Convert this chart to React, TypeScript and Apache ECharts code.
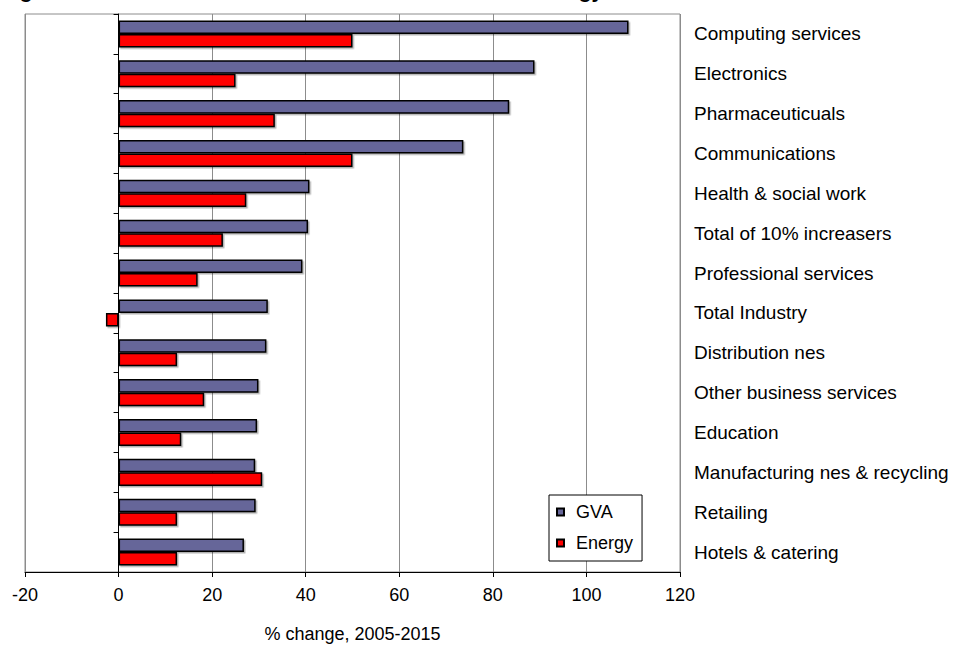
import React, { useEffect, useRef } from "react";
import * as echarts from "echarts";

// Sectors, top to bottom
const categories = [
  "Computing services",
  "Electronics",
  "Pharmaceuticuals",
  "Communications",
  "Health & social work",
  "Total of 10% increasers",
  "Professional services",
  "Total Industry",
  "Distribution nes",
  "Other business services",
  "Education",
  "Manufacturing nes & recycling",
  "Retailing",
  "Hotels & catering",
];

// % change, 2005-2015
const gvaValues = [109.0, 88.9, 83.5, 73.7, 40.8, 40.5, 39.3, 31.9, 31.6, 29.9, 29.6, 29.2, 29.3, 26.8];
const energyValues = [50.0, 25.0, 33.4, 50.0, 27.3, 22.3, 16.9, -2.7, 12.5, 18.3, 13.4, 30.7, 12.5, 12.5];

const xTicks = { min: -20, max: 120, interval: 20 };

const FONT = "Arial, 'Liberation Sans', sans-serif";

export default function App() {
  const ref = useRef<HTMLDivElement>(null);

  useEffect(() => {
    document.body.style.margin = "0";
    if (!ref.current) return;
    const chart = echarts.init(ref.current, null, { renderer: "svg" });

    const barShadow = {
      shadowColor: "rgba(0,0,0,0.3)",
      shadowOffsetX: 1.5,
      shadowOffsetY: 1.5,
      shadowBlur: 0,
    };

    chart.setOption({
      animation: false,
      backgroundColor: "#fff",
      textStyle: { fontFamily: FONT },
      graphic: [
        {
          // title sits above the top edge of the page; only its descenders show
          type: "text",
          x: 1,
          y: -10,
          silent: true,
          style: {
            text: "Figure 3: Sectors with over 10% increase in GVA and Energy",
            font: `bold 21px ${FONT}`,
            fill: "#000",
            textAlign: "left",
            verticalAlign: "middle",
          },
        },
      ],
      grid: {
        left: 25,
        right: 280,
        top: 14,
        bottom: 72,
        show: true,
        borderColor: "#8c8c8c",
        borderWidth: 1,
        backgroundColor: "#fff",
        containLabel: false,
      },
      legend: {
        orient: "vertical",
        left: 549,
        top: 495,
        data: ["GVA", "Energy"],
        icon: "rect",
        itemWidth: 7,
        itemHeight: 7,
        itemGap: 13,
        padding: [8, 9, 9, 7],
        backgroundColor: "#fff",
        borderColor: "#000",
        borderWidth: 1,
        borderRadius: 0,
        textStyle: {
          fontFamily: FONT,
          fontSize: 18,
          color: "#000",
          padding: [0, 0, 0, 7],
        },
      },
      xAxis: {
        type: "value",
        min: xTicks.min,
        max: xTicks.max,
        interval: xTicks.interval,
        name: "% change, 2005-2015",
        nameLocation: "middle",
        nameGap: 53,
        nameTextStyle: { fontFamily: FONT, fontSize: 18, color: "#000" },
        axisLine: { show: true, onZero: false, lineStyle: { color: "#000", width: 1 } },
        axisTick: { show: true, length: 5, lineStyle: { color: "#000" } },
        axisLabel: { fontFamily: FONT, fontSize: 18, color: "#000", margin: 14 },
        splitLine: { show: true, lineStyle: { color: "#8c8c8c", width: 1 } },
      },
      yAxis: [
        {
          type: "category",
          data: categories,
          inverse: true,
          axisLine: { show: true, onZero: true, lineStyle: { color: "#000", width: 1 } },
          axisTick: { show: true, length: 5, interval: 0, lineStyle: { color: "#000" } },
          axisLabel: { show: false },
          splitLine: { show: false },
        },
        {
          type: "category",
          data: categories,
          inverse: true,
          position: "right",
          axisLine: { show: false, onZero: false },
          axisTick: { show: false },
          axisLabel: {
            show: true,
            interval: 0,
            margin: 14,
            fontFamily: FONT,
            fontSize: 19,
            color: "#000",
          },
          splitLine: { show: false },
        },
      ],
      series: [
        {
          name: "GVA",
          type: "bar",
          yAxisIndex: 0,
          data: gvaValues,
          barGap: "0%",
          barCategoryGap: "32%",
          itemStyle: { color: "#666699", borderColor: "#000", borderWidth: 1.5, ...barShadow },
        },
        {
          name: "Energy",
          type: "bar",
          yAxisIndex: 0,
          data: energyValues,
          barGap: "0%",
          barCategoryGap: "32%",
          itemStyle: { color: "#ff0000", borderColor: "#000", borderWidth: 1.5, ...barShadow },
        },
      ],
    });

    return () => chart.dispose();
  }, []);

  return <div ref={ref} style={{ width: 960, height: 648 }} />;
}
